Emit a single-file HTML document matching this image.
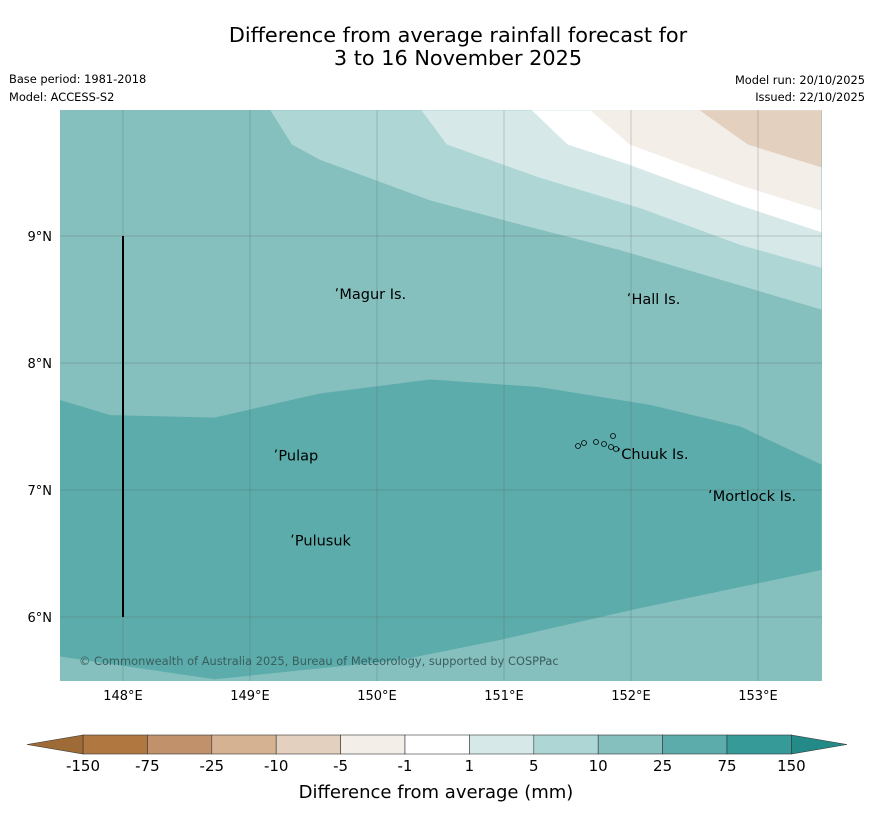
<!DOCTYPE html>
<html><head><meta charset="utf-8"><style>
body{margin:0;background:#fff;font-family:"Liberation Sans","DejaVu Sans",sans-serif}
</style></head><body>
<svg id="chart" width="873" height="816" xmlns="http://www.w3.org/2000/svg" font-family="DejaVu Sans, Liberation Sans, sans-serif">
<text x="458" y="42" text-anchor="middle" font-size="20.8" fill="#000">Difference from average rainfall forecast for</text>
<text x="458" y="65" text-anchor="middle" font-size="20.8" fill="#000">3 to 16 November 2025</text>
<text x="9" y="83" font-size="11.4">Base period: 1981-2018</text>
<text x="9" y="101" font-size="11.4">Model: ACCESS-S2</text>
<text x="865" y="84" font-size="11.4" text-anchor="end">Model run: 20/10/2025</text>
<text x="865" y="101" font-size="11.4" text-anchor="end">Issued: 22/10/2025</text>
<defs><clipPath id="mc"><rect x="60" y="110" width="762" height="571"/></clipPath></defs>
<g id="map" clip-path="url(#mc)"></g>
<g id="axes"></g>
<g id="cbar"></g>
<text x="436" y="798" text-anchor="middle" font-size="18">Difference from average (mm)</text>
</svg>
<script>
const lonTicks=[148,149,150,151,152,153];
const latTicks=[6,7,8,9];
const cbarLevels=[-150,-75,-25,-10,-5,-1,1,5,10,25,75,150];
const cbarColors=["#b07840","#c0916a","#d4b292","#e3d0bf","#f3eee8","#ffffff","#d6e9e8","#add6d5","#85bfbe","#5bacab","#359a98"];
// contour polygons (lon,lat)
const band5to10=[[149.16,9.99],[149.33,9.72],[149.55,9.60],[150.42,9.28],[151.13,9.09],[151.91,8.89],[152.86,8.61],[153.5,8.42],[153.5,9.99]];
const band1to5=[[150.35,9.99],[150.55,9.72],[151.28,9.46],[152.07,9.22],[152.86,8.93],[153.5,8.75],[153.5,9.99]];
const bandNeg1to1=[[151.22,9.99],[151.50,9.72],[151.99,9.56],[152.86,9.24],[153.5,9.03],[153.5,9.99]];
const bandNeg5toNeg1=[[151.68,9.99],[151.99,9.72],[152.86,9.40],[153.5,9.20],[153.5,9.99]];
const bandNeg10toNeg5=[[152.54,9.99],[152.92,9.72],[153.5,9.54],[153.5,9.99]];
const band25to75=[[147.5,7.71],[147.90,7.59],[148.72,7.57],[149.55,7.76],[150.42,7.87],[151.28,7.81],[152.15,7.67],[152.86,7.50],[153.5,7.20],[153.5,6.37],[152.07,6.07],[150.97,5.82],[150.18,5.66],[148.72,5.51],[147.5,5.69]];
const places=[["Magur Is.",149.68,8.55],["Hall Is.",151.98,8.51],["Pulap",149.2,7.28],["Chuuk Is.",151.9,7.29],["Mortlock Is.",152.62,6.96],["Pulusuk",149.33,6.61]];
const X=lon=>123+(lon-148)*127, Y=lat=>236-(lat-9)*127;
const NS="http://www.w3.org/2000/svg";
function mk(t,a,p){const e=document.createElementNS(NS,t);for(const k in a)e.setAttribute(k,a[k]);p.appendChild(e);return e;}
const map=document.getElementById('map'),axes=document.getElementById('axes'),cb=document.getElementById('cbar');
let r=mk('rect',{x:60,y:110,width:762,height:571,fill:cbarColors[8]},map);


const polys=[[band5to10,7,'band-5-10'],[band1to5,6,'band-1-5'],[bandNeg1to1,5,'band-neg1-1'],[bandNeg5toNeg1,4,'band-neg5-neg1'],[bandNeg10toNeg5,3,'band-neg10-neg5'],[band25to75,9,'band-25-75']];
polys.forEach(([pts,ci,nm])=>{
 const p=mk('polygon',{points:pts.map(q=>X(q[0])+','+Y(q[1])).join(' '),fill:cbarColors[ci]},map);
 
 
});
lonTicks.forEach(l=>{
 const g=mk('line',{x1:X(l),x2:X(l),y1:110,y2:681,stroke:'#555','stroke-width':0.5,'stroke-opacity':0.5},map);
 
 
 const t=mk('text',{x:X(l),y:700,'text-anchor':'middle','font-size':13},axes);t.textContent=l+'°E';
 
 
});
latTicks.forEach(l=>{
 const g=mk('line',{x1:60,x2:822,y1:Y(l),y2:Y(l),stroke:'#555','stroke-width':0.5,'stroke-opacity':0.5},map);
 
 
 const t=mk('text',{x:52,y:Y(l)+5,'text-anchor':'end','font-size':13},axes);t.textContent=l+'°N';
 
 
});
const bl=mk('line',{x1:X(148),x2:X(148),y1:Y(9),y2:Y(6),stroke:'#000','stroke-width':2},map);


places.forEach(([n,lo,la])=>{
 const t=mk('text',{x:X(lo)+3,y:Y(la)+6,'font-size':14.5,fill:'#000'},map);t.textContent=n;
 
 
 const d=mk('path',{d:`M${X(lo)},${Y(la)-2} l1,-3`,stroke:'#000','stroke-width':1.2,fill:'none'},map);
 
 
});
[[578,446],[584,443],[596,442],[604,444],[613,436],[611,447],[616,449]].forEach(([x,y])=>{
 const c=mk('circle',{cx:x,cy:y,r:2.5,fill:'none',stroke:'#000','stroke-width':0.8},map);
 
 
});
const cp=mk('text',{x:79,y:665,'font-size':11.4,fill:'#3a5e5e'},map);cp.textContent='© Commonwealth of Australia 2025, Bureau of Meteorology, supported by COSPPac';


// colorbar
const cx0=83,cw=64.4,cy=735,ch=19;
cbarColors.forEach((c,i)=>{
 const b=mk('rect',{x:cx0+i*cw,y:cy,width:cw,height:ch,fill:c,stroke:'#333','stroke-width':0.6},cb);
 
 
});
const xe=cx0+cbarColors.length*cw;
let tl=mk('polygon',{points:`${cx0},${cy} 27,${cy+ch/2} ${cx0},${cy+ch}`,fill:'#9e6a35',stroke:'#333','stroke-width':0.6},cb);


let tr=mk('polygon',{points:`${xe},${cy} 847,${cy+ch/2} ${xe},${cy+ch}`,fill:'#248a87',stroke:'#333','stroke-width':0.6},cb);


cbarLevels.forEach((v,i)=>{
 const t=mk('text',{x:cx0+i*cw,y:771,'text-anchor':'middle','font-size':15},cb);t.textContent=v;
 
 
});
</script>
</body></html>
